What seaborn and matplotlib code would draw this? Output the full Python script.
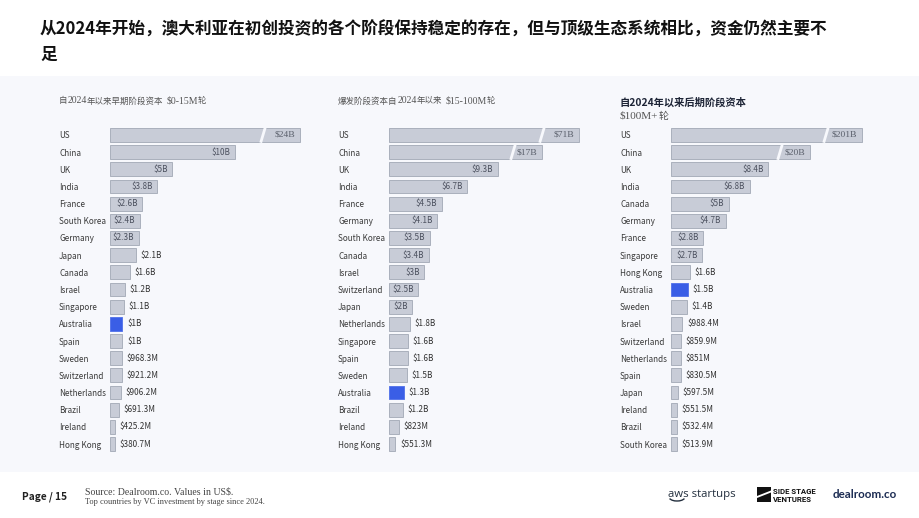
import matplotlib
matplotlib.use("Agg")
import matplotlib.pyplot as plt
import seaborn as sns
import pandas as pd
from matplotlib.patches import Rectangle, Polygon, Arc
from matplotlib import font_manager

# ---------------- data ----------------
title_line1 = "从2024年开始，澳大利亚在初创投资的各个阶段保持稳定的存在，但与顶级生态系统相比，资金仍然主要不"
title_line2 = "足"

early_countries = ["US", "China", "UK", "India", "France", "South Korea", "Germany", "Japan", "Canada",
                   "Israel", "Singapore", "Australia", "Spain", "Sweden", "Switzerland", "Netherlands",
                   "Brazil", "Ireland", "Hong Kong"]
early_values = [24, 10, 5, 3.8, 2.6, 2.4, 2.3, 2.1, 1.6, 1.2, 1.1, 1.0, 1.0, 0.9683, 0.9212, 0.9062,
                0.6913, 0.4252, 0.3807]

break_countries = ["US", "China", "UK", "India", "France", "Germany", "South Korea", "Canada", "Israel",
                   "Switzerland", "Japan", "Netherlands", "Singapore", "Spain", "Sweden", "Australia",
                   "Brazil", "Ireland", "Hong Kong"]
break_values = [71, 17, 9.3, 6.7, 4.5, 4.1, 3.5, 3.4, 3.0, 2.5, 2.0, 1.8, 1.6, 1.6, 1.5, 1.3, 1.2,
                0.823, 0.5513]

late_countries = ["US", "China", "UK", "India", "Canada", "Germany", "France", "Singapore", "Hong Kong",
                  "Australia", "Sweden", "Israel", "Switzerland", "Netherlands", "Spain", "Japan",
                  "Ireland", "Brazil", "South Korea"]
late_values = [201, 20, 8.4, 6.8, 5.0, 4.7, 2.8, 2.7, 1.6, 1.5, 1.4, 0.9884, 0.8599, 0.851, 0.8305,
               0.5975, 0.5515, 0.5324, 0.5139]

early_header = [("自", "cjk"), ("2024", "serif"), ("年以来早期阶段资本", "cjk"), (" ", "gap"),
                ("$0-15M", "serif"), ("轮", "cjk")]
break_header = [("爆发阶段资本自", "cjk"), ("2024", "serif"), ("年以来", "cjk"), (" ", "gap"),
                ("$15-100M", "serif"), ("轮", "cjk")]
late_header_1 = "自2024年以来后期阶段资本"
late_header_2 = [("$100M+", "serif"), ("轮", "cjk")]

source_line1 = "Source: Dealroom.co. Values in US$."
source_line2 = "Top countries by VC investment by stage since 2024."
page_label = "Page / 15"
highlight = "Australia"

# ---------------- style ----------------
sns.set_theme(style="white")
plt.rcParams["font.family"] = ["Noto Sans CJK SC", "DejaVu Sans"]
CJK = ["Noto Sans CJK SC", "DejaVu Sans"]
SERIF = ["Liberation Serif", "Noto Sans CJK SC"]

avail = {f.name for f in font_manager.fontManager.ttflist}
NARROW = ["Liberation Sans Narrow"] if "Liberation Sans Narrow" in avail else ["Roboto", "DejaVu Sans"]

W, H = 920, 518
BAND = "#f7f8fc"
BAR = "#c8ccd7"
BAR_EDGE = "#aab0bc"
BLUE = "#3a5ee6"
BLUE_EDGE = "#5a78ea"
LABEL_SIZE = 5.9

fig = plt.figure(figsize=(9.2, 5.18), dpi=100)
fig.patch.set_facecolor("white")
renderer = fig.canvas.get_renderer()


def fx(px):
    return px / W


def fy(py):
    return 1 - py / H


fig.add_artist(Rectangle((0, fy(472)), 1, (472 - 76) / H, transform=fig.transFigure,
                         facecolor=BAND, edgecolor="none", zorder=0))

# title
fig.text(fx(40), fy(30), title_line1, fontsize=12, weight="bold", color="#111111", va="center",
         family=CJK)
fig.text(fx(40), fy(55), title_line2, fontsize=12, weight="bold", color="#111111", va="center",
         family=CJK)


def draw_runs(x_px, y_px, parts, size_cjk, size_serif, color):
    for txt, kind in parts:
        if kind == "gap":
            x_px += 3
            continue
        fam = CJK if kind == "cjk" else SERIF
        size = size_cjk if kind == "cjk" else size_serif
        t = fig.text(fx(x_px), fy(y_px), txt, fontsize=size, color=color, va="center", family=fam)
        x_px += t.get_window_extent(renderer).width


def fmt(v):
    if v >= 1:
        s = f"{v:.1f}".rstrip("0").rstrip(".")
        return f"${s}B"
    s = f"{v * 1000:.1f}".rstrip("0").rstrip(".")
    return f"${s}M"


AX_TOP, AX_BOT, AX_W = 126.4, 452.6, 200

panels = [
    dict(countries=early_countries, values=early_values, left=110, pxb=12.5,
         broken={"US": (190, 37)}),
    dict(countries=break_countries, values=break_values, left=389, pxb=11.7,
         broken={"US": (190, 37), "China": (153, 29)}),
    dict(countries=late_countries, values=late_values, left=671, pxb=11.6,
         broken={"US": (191, 36), "China": (139, 30)}),
]

for p in panels:
    countries, values, scale = p["countries"], p["values"], p["pxb"]
    ax = fig.add_axes([fx(p["left"]), fy(AX_BOT), AX_W / W, (AX_BOT - AX_TOP) / H])
    ax.set_facecolor("none")
    display = [min(v, p["broken"][c][0] / scale) if c in p["broken"] else v
               for c, v in zip(countries, values)]
    df = pd.DataFrame({"country": countries, "display": display})
    palette = {c: (BLUE if c == highlight else BAR) for c in countries}
    sns.barplot(data=df, x="display", y="country", hue="country", palette=palette, order=countries,
                hue_order=countries, legend=False, ax=ax, width=0.8, errorbar=None,
                edgecolor=BAR_EDGE, linewidth=0.7, orient="h", dodge=False, saturation=1)
    for cont, c in zip(ax.containers, countries):
        for patch in cont:
            patch.set_edgecolor(BLUE_EDGE if c == highlight else BAR_EDGE)
    ax.set_xlim(0, AX_W / scale)
    ax.set_ylim(len(countries) - 0.5, -0.5)
    sns.despine(ax=ax, left=True, bottom=True)
    ax.set_xticks([])
    ax.set_xlabel("")
    ax.set_ylabel("")
    ax.tick_params(axis="y", length=0, pad=36.7, labelsize=LABEL_SIZE, labelcolor="#3a3a3a")
    for t in ax.get_yticklabels():
        t.set_ha("left")
        t.set_family(CJK)

    for i, (c, v, d) in enumerate(zip(countries, values, display)):
        lab = fmt(v)
        bar_px = d * scale
        if c in p["broken"]:
            ax.annotate(lab, xy=(d, i), xytext=(-3.3, 0), textcoords="offset points", ha="right",
                        va="center", fontsize=6.8, color="#5a5f6b", family=SERIF)
            off = p["broken"][c][1]
            xs = d - off / scale
            dd = 2.3 / scale
            ax.plot([xs - dd, xs + dd], [i + 0.45, i - 0.45], color=BAND, lw=2.0,
                    solid_capstyle="butt", zorder=5)
            continue
        t = ax.annotate(lab, xy=(d, i), xytext=(-3.3, 0), textcoords="offset points", ha="right",
                        va="center", fontsize=LABEL_SIZE, color="#4d5260", family=CJK)
        w = t.get_window_extent(renderer).width
        if w + 6.2 > bar_px:
            t.remove()
            ax.annotate(lab, xy=(d, i), xytext=(3.3, 0), textcoords="offset points", ha="left",
                        va="center", fontsize=LABEL_SIZE, color="#333333", family=CJK)

# panel headers
draw_runs(59, 101, early_header, 6.1, 7.0, "#555555")
draw_runs(338, 101, break_header, 6.1, 7.0, "#555555")
fig.text(fx(620), fy(103), late_header_1, fontsize=7.4, weight="bold", color="#1d2436", va="center",
         family=CJK)
draw_runs(620, 116, late_header_2, 7.2, 8.0, "#555555")

# footer
fig.text(fx(22), fy(497), page_label, fontsize=7.3, weight="bold", color="#222222", va="center",
         family=CJK)
fig.text(fx(85), fy(492), source_line1, fontsize=7.1, color="#444444", va="center", family=SERIF)
fig.text(fx(85), fy(502), source_line2, fontsize=6.0, color="#444444", va="center", family=SERIF)

# logos (as text + simple shapes)
fig.text(fx(668), fy(494), "aws startups", fontsize=8.2, color="#232f3e", va="center",
         family=["Open Sans", "DejaVu Sans"])
fig.add_artist(Arc((fx(677), fy(497)), 16 / W, 8 / H, theta1=200, theta2=340,
                   transform=fig.transFigure, color="#232f3e", lw=1.0))
fig.add_artist(Polygon([(fx(757), fy(487)), (fx(771), fy(487)), (fx(771), fy(490.5)),
                        (fx(757), fy(496))], closed=True, transform=fig.transFigure,
                       facecolor="#111111", edgecolor="none"))
fig.add_artist(Polygon([(fx(757), fy(498)), (fx(771), fy(492.5)), (fx(771), fy(502)),
                        (fx(757), fy(502))], closed=True, transform=fig.transFigure,
                       facecolor="#111111", edgecolor="none"))
fig.text(fx(773), fy(491), "SIDE STAGE", fontsize=5.6, weight="bold", color="#111111",
         va="center", family=NARROW)
fig.text(fx(773), fy(499.5), "VENTURES", fontsize=5.6, weight="bold", color="#111111",
         va="center", family=NARROW)
fig.text(fx(833), fy(494.5), "dealroom.co", fontsize=8.4, weight="bold", color="#1b2b52",
         va="center", family=["Lato", "DejaVu Sans"])

fig.savefig("out.png", dpi=100, facecolor="white")
